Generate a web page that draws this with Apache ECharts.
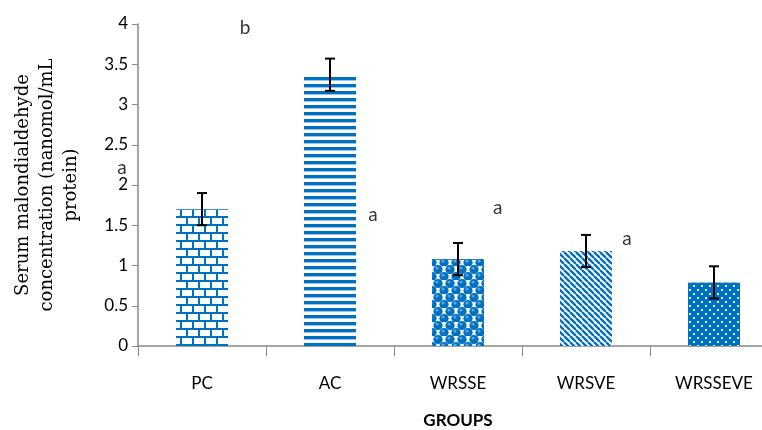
<!DOCTYPE html>
<html>
<head>
<meta charset="utf-8">
<script src="https://cdn.jsdelivr.net/npm/echarts@6/dist/echarts.min.js"></script>
<style>html,body{margin:0;padding:0;background:#fff;}#c{width:762px;height:430px;}</style>
</head>
<body>
<div id="c"></div>
<script>
var categories = ['PC', 'AC', 'WRSSE', 'WRSVE', 'WRSSEVE'];
var values = [1.70, 3.37, 1.08, 1.18, 0.79];
var errors = [0.20, 0.20, 0.20, 0.20, 0.20];
var letters = ['b', 'a', 'a', 'a', 'a'];
var letterX = [0.336, -0.625, 1.336, 2.31, 3.32];
var letterY = [3.95, 2.21, 1.63, 1.71, 1.33];
var yTicks = ['0', '0.5', '1', '1.5', '2', '2.5', '3', '3.5', '4'];

var BLUE = '#0070C0';
function tile(w, h, draw) {
  var c = document.createElement('canvas');
  c.width = w; c.height = h;
  var g = c.getContext('2d');
  draw(g, w, h);
  return {image: c, repeat: 'repeat'};
}
var patterns = [
  tile(24, 16, function (g, w, h) {
    g.fillStyle = '#fff'; g.fillRect(0, 0, w, h);
    g.fillStyle = BLUE;
    g.fillRect(0, 0, w, 2); g.fillRect(0, 8, w, 2);
    g.fillRect(0, 0, 2, 8); g.fillRect(12, 0, 2, 8);
    g.fillRect(6, 8, 2, 8); g.fillRect(18, 8, 2, 8);
  }),
  tile(4, 7, function (g, w, h) {
    g.fillStyle = '#fff'; g.fillRect(0, 0, w, h);
    g.fillStyle = BLUE; g.fillRect(0, 0, w, 3);
    g.fillStyle = '#9DC3E6'; g.fillRect(0, 3, w, 1);
  }),
  tile(12, 14, function (g, w, h) {
    g.fillStyle = '#EEF7F0'; g.fillRect(0, 0, w, h);
    var pts = [[6, 3.5], [0, 10.5], [12, 10.5], [6, 17.5], [6, -3.5]];
    pts.forEach(function (p) {
      g.fillStyle = BLUE;
      g.beginPath(); g.arc(p[0], p[1], 4.6, 0, Math.PI * 2); g.fill();
      g.fillStyle = '#5BA3E0';
      g.beginPath(); g.arc(p[0] - 1, p[1] - 1.5, 1.6, 0, Math.PI * 2); g.fill();
    });
  }),
  tile(6, 6, function (g, w, h) {
    g.fillStyle = '#fff'; g.fillRect(0, 0, w, h);
    g.strokeStyle = BLUE; g.lineWidth = 2.4;
    for (var k = -1; k <= 1; k++) {
      g.beginPath(); g.moveTo(k * 6, 0); g.lineTo(k * 6 + 6, 6); g.stroke();
    }
  }),
  tile(8, 8, function (g, w, h) {
    g.fillStyle = BLUE; g.fillRect(0, 0, w, h);
    g.fillStyle = '#DDEEFF';
    g.fillRect(1, 1, 2, 2); g.fillRect(5, 5, 2, 2);
  })
];

var barData = values.map(function (v, i) {
  return {value: v, itemStyle: {color: patterns[i]}};
});
var errData = values.map(function (v, i) { return [i, v, errors[i]]; });
var letterData = letters.map(function (t, i) { return {value: [letterX[i], letterY[i]], name: t}; });

var chart = echarts.init(document.getElementById('c'), null, {renderer: 'canvas'});
chart.setOption({
  animation: false,
  backgroundColor: '#fff',
  grid: {left: 138, top: 24, width: 640, height: 322, containLabel: false, outerBoundsMode: 'none'},
  xAxis: [{
    type: 'category',
    data: categories,
    axisLine: {lineStyle: {color: '#888', width: 1.5}},
    axisTick: {show: true, length: 10, lineStyle: {color: '#888'}},
    axisLabel: {color: '#000', fontFamily: 'Lato', fontSize: 17, margin: 29},
    name: 'GROUPS',
    nameLocation: 'middle',
    nameGap: 66,
    nameTextStyle: {color: '#000', fontFamily: 'Lato', fontWeight: 'bold', fontSize: 17}
  }, {
    type: 'value', min: -0.5, max: 4.5, show: false
  }],
  yAxis: {
    type: 'value',
    min: 0, max: 4, interval: 0.5,
    splitLine: {show: false},
    axisLine: {show: true, onZero: false, lineStyle: {color: '#888', width: 1.5}},
    axisTick: {show: true, length: 6, lineStyle: {color: '#888'}},
    axisLabel: {color: '#000', fontFamily: 'Lato', fontSize: 17, margin: 10,
      formatter: function (v) { return yTicks[Math.round(v * 2)]; }},
    name: 'Serum malondialdehyde\nconcentration (nanomol/mL\nprotein)',
    nameLocation: 'middle',
    nameRotate: 90,
    nameGap: 55,
    nameTextStyle: {color: '#000', fontFamily: 'DejaVu Serif', fontSize: 18, lineHeight: 24, align: 'center'}
  },
  series: [{
    type: 'bar',
    data: barData,
    barWidth: 52,
    xAxisIndex: 0
  }, {
    type: 'custom',
    xAxisIndex: 0,
    data: errData,
    z: 5,
    renderItem: function (params, api) {
      var x = api.value(0), v = api.value(1), e = api.value(2);
      var top = api.coord([x, v + e]);
      var bot = api.coord([x, v - e]);
      var cw = 5;
      var st = {stroke: '#000', lineWidth: 2};
      return {type: 'group', children: [
        {type: 'line', shape: {x1: top[0], y1: top[1], x2: bot[0], y2: bot[1]}, style: st},
        {type: 'line', shape: {x1: top[0] - cw, y1: top[1], x2: top[0] + cw, y2: top[1]}, style: st},
        {type: 'line', shape: {x1: bot[0] - cw, y1: bot[1], x2: bot[0] + cw, y2: bot[1]}, style: st}
      ]};
    }
  }, {
    type: 'scatter',
    xAxisIndex: 1,
    data: letterData,
    symbolSize: 1,
    itemStyle: {color: 'rgba(0,0,0,0)'},
    clip: false,
    z: 6,
    label: {show: true, position: 'inside', formatter: '{b}', color: '#000',
      fontFamily: 'Lato', fontSize: 19}
  }]
});
</script>
</body>
</html>
